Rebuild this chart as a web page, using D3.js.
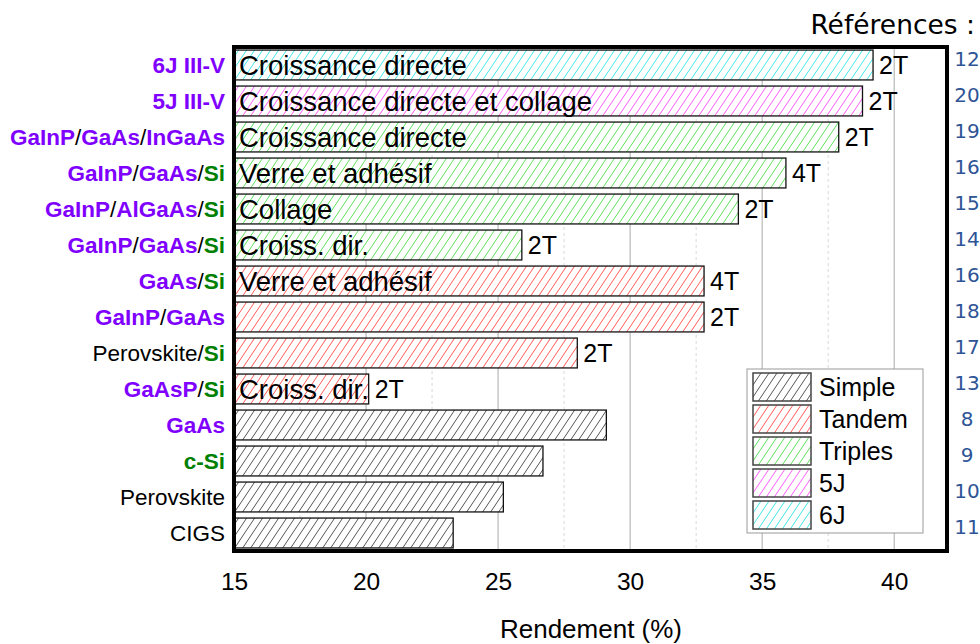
<!DOCTYPE html>
<html lang="fr">
<head>
<meta charset="utf-8">
<script src="https://cdn.jsdelivr.net/npm/d3@7"></script>
<style>
  body { margin: 0; background: #fff; }
  svg { font-family: "Liberation Sans", Arial, sans-serif; }
</style>
</head>
<body>
<script>
// cellules, du haut vers le bas
var categories = ["6J III-V", "5J III-V", "GaInP/GaAs/InGaAs", "GaInP/GaAs/Si", "GaInP/AlGaAs/Si",
                  "GaInP/GaAs/Si", "GaAs/Si", "GaInP/GaAs", "Perovskite/Si", "GaAsP/Si",
                  "GaAs", "c-Si", "Perovskite", "CIGS"];
var rendements = [39.2, 38.8, 37.9, 35.9, 34.1, 25.9, 32.8, 32.8, 28.0, 20.1, 29.1, 26.7, 25.2, 23.3];
var types = ["6J", "5J", "Triples", "Triples", "Triples", "Triples", "Tandem", "Tandem", "Tandem", "Tandem",
             "Simple", "Simple", "Simple", "Simple"];
var procedes = ["Croissance directe", "Croissance directe et collage", "Croissance directe", "Verre et adhésif",
                "Collage", "Croiss. dir.", "Verre et adhésif", "", "", "Croiss. dir.", "", "", "", ""];
var terminaux = ["2T", "2T", "2T", "4T", "2T", "2T", "4T", "2T", "2T", "2T", "", "", "", ""];
var references = ["12", "20", "19", "16", "15", "14", "16", "18", "17", "13", "8", "9", "10", "11"];
var legende = ["Simple", "Tandem", "Triples", "5J", "6J"];
var xTicks = [15, 20, 25, 30, 35, 40];

var hatchColor = { "Simple": "#555", "Tandem": "#ff5a5a", "Triples": "#5ee05e", "5J": "#ff5cff", "6J": "#45e6e6" };
var violet = ["6J III-V", "5J III-V", "GaInP", "GaAs", "InGaAs", "AlGaAs", "GaAsP"];
var vert = ["Si", "c-Si"];

var width = 980, height = 644;
var pLeft = 234, pRight = 947, pTop = 47, pBottom = 551;

var svg = d3.select("body").append("svg")
    .attr("width", width)
    .attr("height", height);

// hachures
var defs = svg.append("defs");
legende.forEach(function (t) {
    var p = defs.append("pattern")
        .attr("id", "h-" + t)
        .attr("patternUnits", "userSpaceOnUse")
        .attr("width", 8).attr("height", 12);
    p.append("rect").attr("width", 8).attr("height", 12).attr("fill", "#fff");
    p.append("path")
        .attr("d", "M-1,1.5L1,-1.5M0,12L8,0M7,13.5L9,10.5")
        .attr("stroke", hatchColor[t])
        .attr("stroke-width", 1);
});

var x = d3.scaleLinear().domain([15, 42]).range([pLeft, pRight]);
var y = d3.scaleBand().domain(d3.range(categories.length))
    .range([pTop, pBottom]).paddingInner(0.17).paddingOuter(0.085);

// grille
svg.append("g").selectAll("line")
    .data(d3.range(17.5, 42, 5))
    .enter().append("line")
    .attr("x1", x).attr("x2", x)
    .attr("y1", pTop).attr("y2", pBottom)
    .attr("stroke", "#d8d8d8").attr("stroke-dasharray", "3,3");
svg.append("g").selectAll("line")
    .data(xTicks.slice(1))
    .enter().append("line")
    .attr("x1", x).attr("x2", x)
    .attr("y1", pTop).attr("y2", pBottom)
    .attr("stroke", "#aaa");

// barres
var rows = svg.append("g").selectAll("g")
    .data(categories)
    .enter().append("g");

rows.append("rect")
    .attr("x", x(15))
    .attr("y", function (d, i) { return y(i); })
    .attr("width", function (d, i) { return x(rendements[i]) - x(15); })
    .attr("height", y.bandwidth())
    .attr("fill", function (d, i) { return "url(#h-" + types[i] + ")"; })
    .attr("stroke", "#111")
    .attr("stroke-width", 1.3);

rows.append("text")
    .attr("x", x(15) + 5)
    .attr("y", function (d, i) { return y(i) + y.bandwidth() / 2; })
    .attr("dy", "0.35em")
    .attr("font-size", 27.5)
    .attr("fill", "#000")
    .text(function (d, i) { return procedes[i]; });

rows.append("text")
    .attr("x", function (d, i) { return x(rendements[i]) + 6; })
    .attr("y", function (d, i) { return y(i) + y.bandwidth() / 2; })
    .attr("dy", "0.35em")
    .attr("font-size", 25)
    .text(function (d, i) { return terminaux[i]; });

// noms des cellules (couleurs par matériau)
var labels = svg.append("g").selectAll("text")
    .data(categories)
    .enter().append("text")
    .attr("x", 225)
    .attr("y", function (d, i) { return y(i) + y.bandwidth() / 2; })
    .attr("dy", "0.36em")
    .attr("text-anchor", "end")
    .attr("font-size", 22.5);

labels.selectAll("tspan")
    .data(function (d) { return d.split(/(\/)/); })
    .enter().append("tspan")
    .attr("font-weight", function (p) { return (violet.indexOf(p) >= 0 || vert.indexOf(p) >= 0) ? "bold" : "normal"; })
    .attr("fill", function (p) {
        if (violet.indexOf(p) >= 0) return "#8000ff";
        if (vert.indexOf(p) >= 0) return "#008000";
        return "#000";
    })
    .text(function (p) { return p; });

// références
svg.append("text")
    .attr("x", 975).attr("y", 34)
    .attr("text-anchor", "end")
    .style("font-family", "'DejaVu Sans'")
    .attr("font-size", 26.5)
    .text("Références :");

svg.append("g").selectAll("text")
    .data(references)
    .enter().append("text")
    .attr("x", 967)
    .attr("y", function (d, i) { return y(i) + y.bandwidth() / 2 - 6; })
    .attr("dy", "0.36em")
    .attr("text-anchor", "middle")
    .style("font-family", "'DejaVu Sans'")
    .attr("font-size", 20)
    .attr("fill", "#2e5496")
    .text(function (d) { return d; });

// légende
var leg = svg.append("g").attr("transform", "translate(747,369)");
leg.append("rect")
    .attr("width", 176).attr("height", 164)
    .attr("fill", "#fff").attr("stroke", "#999");
var li = leg.selectAll("g.item")
    .data(legende)
    .enter().append("g")
    .attr("class", "item")
    .attr("transform", function (d, i) { return "translate(6," + (4 + i * 32) + ")"; });
li.append("rect")
    .attr("width", 58).attr("height", 28)
    .attr("fill", function (d) { return "url(#h-" + d + ")"; })
    .attr("stroke", "#444").attr("stroke-width", 1.5);
li.append("text")
    .attr("x", 66).attr("y", 14)
    .attr("dy", "0.36em")
    .attr("font-size", 25)
    .text(function (d) { return d; });

// axe x
var xAxis = svg.append("g")
    .attr("transform", "translate(0," + pBottom + ")")
    .call(d3.axisBottom(x).tickValues(xTicks).tickSize(0).tickPadding(22));
xAxis.select(".domain").remove();
xAxis.selectAll("text")
    .style("font-family", "'Liberation Sans'")
    .attr("font-size", 24.5)
    .attr("fill", "#000");

svg.append("text")
    .attr("x", 591).attr("y", 638)
    .attr("text-anchor", "middle")
    .attr("font-size", 26)
    .text("Rendement (%)");

// cadre
svg.append("rect")
    .attr("x", pLeft).attr("y", pTop)
    .attr("width", pRight - pLeft).attr("height", pBottom - pTop)
    .attr("fill", "none")
    .attr("stroke", "#000")
    .attr("stroke-width", 4);
</script>
</body>
</html>
